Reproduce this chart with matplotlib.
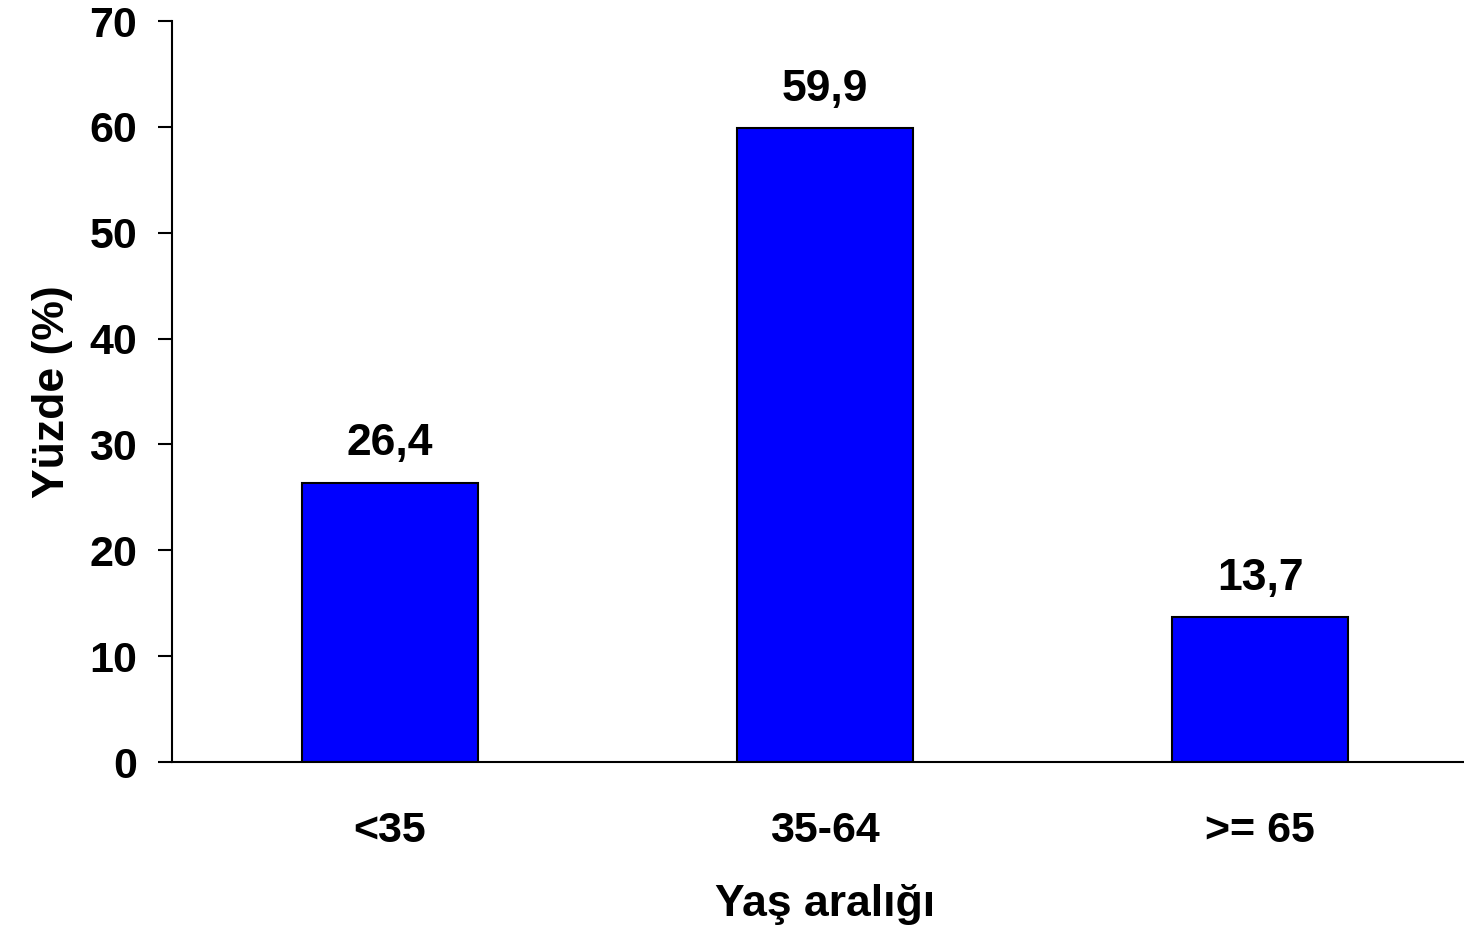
import matplotlib.pyplot as plt

plt.rcParams['font.family'] = ['Liberation Sans', 'DejaVu Sans']
plt.rcParams['font.weight'] = 'bold'

categories = ['<35', '35-64', '>= 65']
values = [26.4, 59.9, 13.7]
value_labels = ['26,4', '59,9', '13,7']

fig = plt.figure(figsize=(14.64, 9.38), dpi=100)
ax = fig.add_axes([172 / 1464, 1 - 762 / 938, 1306 / 1464, 741 / 938])

x = range(len(categories))
bars = ax.bar(x, values, width=0.404, color='#0000FF', edgecolor='black', linewidth=1.5)

# value labels above bars
for b, lab in zip(bars, value_labels):
    ax.annotate(lab, (b.get_x() + b.get_width() / 2, b.get_height()),
                xytext=(0, 19.5), textcoords='offset points',
                ha='center', va='baseline', fontsize=32, fontweight='bold')

ax.set_xlim(-0.5, 2.5)
ax.set_ylim(0, 70)
ax.set_yticks(range(0, 71, 10))
ax.set_xticks(list(x))
ax.set_xticklabels(categories)
ax.tick_params(axis='y', length=10, width=1.5, pad=15, labelsize=31)
ax.tick_params(axis='x', length=0, pad=35, labelsize=31)
for lab in ax.get_xticklabels() + ax.get_yticklabels():
    lab.set_fontweight('bold')

ax.spines['top'].set_visible(False)
ax.spines['right'].set_visible(False)
ax.spines['left'].set_linewidth(1.5)
ax.spines['bottom'].set_linewidth(1.5)

ax.set_ylabel('Yüzde (%)', fontsize=32, fontweight='bold', labelpad=12)
ax.set_xlabel('Yaş aralığı', fontsize=32, fontweight='bold', labelpad=24)

fig.savefig('out.png', dpi=100)
